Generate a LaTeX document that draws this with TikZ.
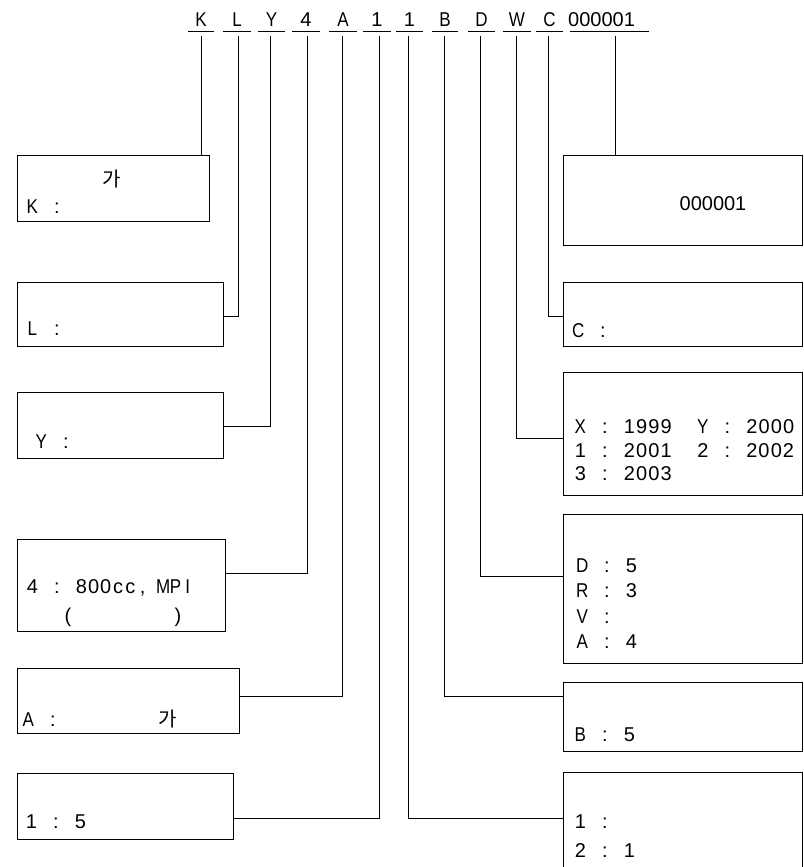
\documentclass[tikz,border=0pt]{standalone}
\usepackage{fontspec}
\setmainfont{Liberation Sans}
\newfontfamily\narrowfont[FakeStretch=0.85]{Liberation Sans}
\newfontfamily\kr{Noto Sans CJK KR}
\makeatletter
\def\monoend{\monoend@mark}
\def\monow{12.25pt}
\newcommand\mono[1]{\mono@#1\monoend}
\def\mono@#1{\ifx\monoend#1\else\makebox[\monow]{\monofmt#1}\expandafter\mono@\fi}
\def\monofmt#1{\ifcat a\noexpand#1{\narrowfont#1}\else#1\fi}
\newcommand\cell[1]{\makebox[\monow]{#1}}
\makeatother
\tikzset{
  boxn/.style={draw, line width=1.4pt, rectangle, anchor=north west, inner sep=0pt},
  txt/.style={anchor=base west, inner sep=0pt, font=\fontsize{20}{24}\selectfont},
  ctxt/.style={anchor=base, inner sep=0pt, font=\fontsize{20}{24}\selectfont},
  krt/.style={anchor=base, inner sep=0pt, font=\kr\fontsize{20}{24}\selectfont},
  toplet/.style={anchor=base, inner sep=0pt, font=\narrowfont\fontsize{20}{24}\selectfont},
  uline/.style={line width=1pt},
  conn/.style={line width=0.9pt}
}
\begin{document}
\begin{tikzpicture}[x=1pt,y=-1pt]
\useasboundingbox (0,0) rectangle (803,867);
\clip (0,0) rectangle (803,867);
% top code letters
\node[toplet] (tK) at (201,27) {K};
\node[toplet] (tL) at (237,27) {L};
\node[toplet] (tY) at (271.5,27) {Y};
\node[ctxt] (t4) at (306,27) {4};
\node[toplet] (tA) at (343,27) {A};
\node[ctxt] (t1a) at (377,27) {1};
\node[ctxt] (t1b) at (409.5,27) {1};
\node[toplet] (tB) at (445,27) {B};
\node[toplet] (tD) at (481.5,27) {D};
\node[toplet] (tW) at (517,27) {W};
\node[toplet] (tC) at (549.5,27) {C};
\node[txt] (tN) at (568,27) {000001};
% underlines
\draw[uline] (188,32) -- (214,32);
\draw[uline] (223,32) -- (251,32);
\draw[uline] (258,32) -- (285,32);
\draw[uline] (292,32) -- (320,32);
\draw[uline] (329,32) -- (357,32);
\draw[uline] (363,32) -- (391,32);
\draw[uline] (396,32) -- (423,32);
\draw[uline] (432,32) -- (458,32);
\draw[uline] (468,32) -- (495,32);
\draw[uline] (503,32) -- (531,32);
\draw[uline] (536,32) -- (563,32);
\draw[uline] (570,32) -- (649,32);
% connector start points
\coordinate (cK) at (201,36);
\coordinate (cL) at (238,36);
\coordinate (cY) at (270,36);
\coordinate (c4) at (307,36);
\coordinate (cA) at (342,36);
\coordinate (c1a) at (379,36);
\coordinate (c1b) at (408,36);
\coordinate (cB) at (444,36);
\coordinate (cD) at (480,36);
\coordinate (cW) at (516,36);
\coordinate (cC) at (548,36);
\coordinate (cN) at (615,36);
% left boxes
\node[boxn, minimum width=192pt, minimum height=66pt] (bK) at (17,155) {};
\node[boxn, minimum width=206pt, minimum height=64pt] (bL) at (17,282) {};
\node[boxn, minimum width=206pt, minimum height=66pt] (bY) at (17,392) {};
\node[boxn, minimum width=208pt, minimum height=92pt] (b4) at (17,539) {};
\node[boxn, minimum width=222pt, minimum height=65pt] (bA) at (17,668) {};
\node[boxn, minimum width=216pt, minimum height=66pt] (b1) at (17,773) {};
% right boxes
\node[boxn, minimum width=238.5pt, minimum height=90pt] (bN) at (563,155) {};
\node[boxn, minimum width=238.5pt, minimum height=64pt] (bC) at (563,282) {};
\node[boxn, minimum width=238.5pt, minimum height=123pt] (bW) at (563,372) {};
\node[boxn, minimum width=238.5pt, minimum height=149pt] (bD) at (563,514) {};
\node[boxn, minimum width=238.5pt, minimum height=69pt] (bB) at (563,682) {};
\node[boxn, minimum width=238.5pt, minimum height=120pt] (bR1) at (563,772) {};
% connectors
\draw[conn] (cK) -- (cK |- bK.north);
\draw[conn] (cL) |- (bL.east |- 0,316);
\draw[conn] (cY) |- (bY.east |- 0,426);
\draw[conn] (c4) |- (b4.east |- 0,573);
\draw[conn] (cA) |- (bA.east |- 0,696);
\draw[conn] (c1a) |- (b1.east |- 0,818);
\draw[conn] (c1b) |- (bR1.west |- 0,818);
\draw[conn] (cB) |- (bB.west |- 0,696);
\draw[conn] (cD) |- (bD.west |- 0,576);
\draw[conn] (cW) |- (bW.west |- 0,438);
\draw[conn] (cC) |- (bC.west |- 0,316);
\draw[conn] (cN) -- (cN |- bN.north);
% left texts
\node[krt] (xK1) at (112,186) {가};
\node[txt] (xK2) at (26,213) {\mono{K~:}};
\node[txt] (xL) at (26,335) {\mono{L~:}};
\node[txt] (xY) at (35,448) {\mono{Y~:}};
\node[txt] (x41) at (26,593) {\mono{4~:~800}\cell{c}\cell{c}\cell{,}};
\node[txt] (x42) at (157,593) {\mono{MPI}};
\node[ctxt] (x43) at (68,622) {(};
\node[ctxt] (x44) at (178,622) {)};
\node[txt] (xA1) at (22,726) {\mono{A~:}};
\node[krt] (xA2) at (168,726) {가};
\node[txt] (x1) at (25,828) {\mono{1~:~5}};
% right texts
\node[ctxt] (xN) at (713,210) {000001};
\node[txt] (xC) at (572,337) {\mono{C~:}};
\node[txt] (xW1) at (574,433) {\mono{X~:~1999~~Y~:~2000}};
\node[txt] (xW2) at (574,457) {\mono{1~:~2001~~2~:~2002}};
\node[txt] (xW3) at (574,480) {\mono{3~:~2003}};
\node[txt] (xD1) at (576,572) {\mono{D~:~5}};
\node[txt] (xD2) at (576,597) {\mono{R~:~3}};
\node[txt] (xD3) at (576,623) {\mono{V~:}};
\node[txt] (xD4) at (576,648) {\mono{A~:~4}};
\node[txt] (xB) at (574,741) {\mono{B~:~5}};
\node[txt] (xR1) at (574,828) {\mono{1~:}};
\node[txt] (xR2) at (574,857) {\mono{2~:~1}};
\end{tikzpicture}
\end{document}
